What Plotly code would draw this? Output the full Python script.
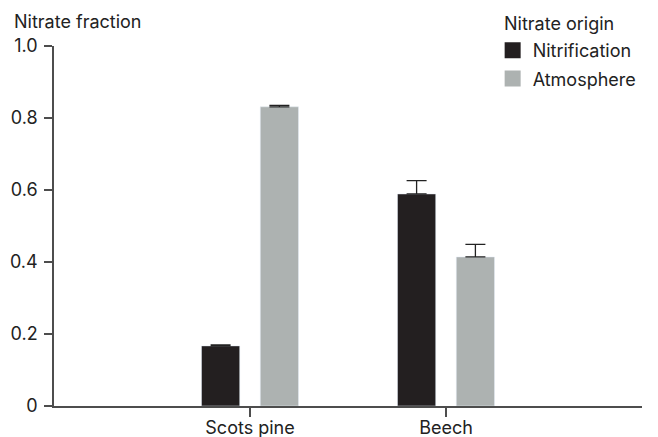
import plotly.graph_objects as go

categories = ["Scots pine", "Beech"]
nitrification = [0.167, 0.589]
nitrification_err = [0.003, 0.037]
atmosphere = [0.831, 0.414]
atmosphere_err = [0.004, 0.035]
y_ticks = [0, 0.2, 0.4, 0.6, 0.8, 1.0]
y_tick_labels = ["0", "0.2", "0.4", "0.6", "0.8", "1.0"]

C_NIT = "#231f20"
C_ATM = "#adb2b1"
AX = "#4d4d4d"
FONT = "Inter"
FS = 18

fig = go.Figure()
fig.add_trace(go.Bar(
    x=categories, y=nitrification, name="Nitrification", marker_color=C_NIT,
    offsetgroup="a", showlegend=False,
    error_y=dict(type="data", array=nitrification_err, symmetric=False,
                 arrayminus=[0, 0], color="#222222", thickness=1.3, width=10),
))
fig.add_trace(go.Bar(
    x=categories, y=atmosphere, name="Atmosphere", marker_color=C_ATM,
    offsetgroup="b", showlegend=False,
    error_y=dict(type="data", array=atmosphere_err, symmetric=False,
                 arrayminus=[0, 0], color="#222222", thickness=1.3, width=10),
))
for nm, col in [("Nitrification", C_NIT), ("Atmosphere", C_ATM)]:
    fig.add_trace(go.Scatter(
        x=[None], y=[None], mode="markers", name=nm, legendgroup=nm,
        marker=dict(symbol="square", size=18, color=col),
    ))

fig.update_layout(
    width=658, height=437,
    margin=dict(l=46, r=24, t=38, b=39, autoexpand=False),
    paper_bgcolor="white", plot_bgcolor="white",
    barmode="group", bargap=0.4, bargroupgap=0.35,
    font=dict(family=FONT, size=FS, color="#222222"),
    showlegend=True,
    legend=dict(
        x=0.746, y=1.039, xanchor="left", yanchor="top",
        font=dict(size=FS), itemsizing="trace",
        bgcolor="rgba(0,0,0,0)", tracegroupgap=2,
    ),
    xaxis=dict(
        type="category", range=[-1, 2], showline=True, linecolor=AX, linewidth=1.5,
        ticks="outside", ticklen=9, tickcolor=AX, tickwidth=1.5,
        ticklabelstandoff=-4,
        showgrid=False, zeroline=False, tickfont=dict(size=FS),
    ),
    yaxis=dict(
        range=[0, 1.0], showline=True, linecolor=AX, linewidth=1.5,
        ticks="outside", ticklen=8, tickcolor=AX, tickwidth=1.5,
        tickvals=y_ticks, ticktext=y_tick_labels, ticklabelstandoff=3,
        showgrid=False, zeroline=False, tickfont=dict(size=FS),
    ),
    annotations=[
        dict(text="Nitrate fraction", xref="paper", yref="paper",
             x=-0.0714, y=1.069, xanchor="left", yanchor="middle",
             showarrow=False, font=dict(size=FS)),
        dict(text="Nitrate origin", xref="paper", yref="paper",
             x=0.762, y=1.062, xanchor="left", yanchor="middle",
             showarrow=False, font=dict(size=FS)),
    ],
)

fig.write_html("out.html")
